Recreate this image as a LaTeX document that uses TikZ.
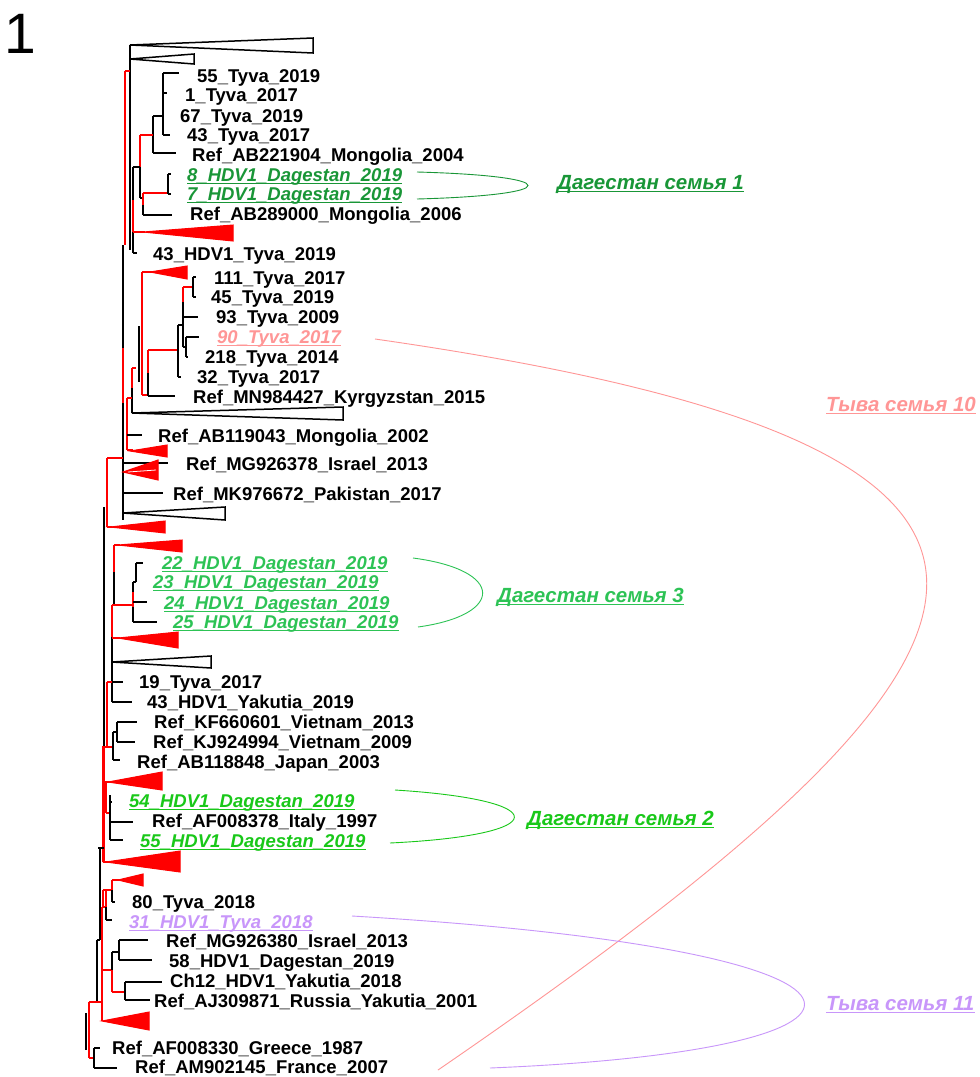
\documentclass[tikz,border=0pt]{standalone}
\usepackage{fontspec}
\setmainfont{Liberation Sans}
\definecolor{gA}{RGB}{25,150,55}
\definecolor{gB}{RGB}{45,195,85}
\definecolor{gC}{RGB}{25,200,25}
\definecolor{pk}{RGB}{255,150,150}
\definecolor{lv}{RGB}{200,150,250}
\definecolor{tred}{RGB}{255,0,0}
\newcommand{\ulnode}[2]{\draw[line width=1.4pt,#2] ([yshift=-2.6pt]#1.base west) -- ([yshift=-2.6pt]#1.base east);}
\begin{document}
\begin{tikzpicture}[x=1pt,y=-1pt,
  tb/.style={line width=1.8pt,black},
  tr/.style={line width=1.8pt,tred},
  trw/.style={line width=3pt,tred},
  rtri/.style={fill=tred,draw=tred,line width=1pt,line join=miter},
  btri/.style={draw=black,fill=white,line width=1.5pt,line join=miter},
  lab/.style={anchor=base west,inner sep=0pt,font=\fontsize{18.5}{20}\selectfont\bfseries},
  hl/.style={anchor=base west,inner sep=0pt,font=\fontsize{18.5}{20}\selectfont\bfseries\itshape},
  grp/.style={anchor=base west,inner sep=0pt,font=\fontsize{20.5}{22}\selectfont\bfseries\itshape},
  brace/.style={line width=0.9pt}]
\useasboundingbox (0,0) rectangle (980,1077);
\fill[white] (0,0) rectangle (980,1077);

\node[anchor=base west,inner sep=0pt,font=\fontsize{57}{60}\selectfont] (num) at (4,53) {1};

% ---------- top part ----------
\draw[btri] (130,45) -- (313,38) -- (313,53) -- cycle;
\draw[btri] (130,59) -- (194,54) -- (194,64) -- cycle;
\draw[tb] (130,45) -- (130,250);
\draw[tr] (125,71) -- (125,245);
\draw[tr] (125,71) -- (130,71);
\draw[tb] (163,73) -- (179,73);
\draw[tb] (163,73) -- (163,135);
\draw[tb] (163,93) -- (167,93);
\draw[tb] (163,135) -- (170,135);
\draw[tb] (153,116) -- (163,116);
\draw[tb] (153,116) -- (153,153);
\draw[tb] (153,153) -- (176,153);
\draw[tr] (140,135) -- (153,135);
\draw[tr] (140,135) -- (140,167);
\draw[tb] (140,167) -- (140,198);
\draw[tb] (133,167) -- (140,167);
\draw[tb] (140,198) -- (143,198);
\draw[tr] (143,193) -- (168,193);
\draw[tr] (143,193) -- (143,205);
\draw[tb] (143,205) -- (143,215);
\draw[tb] (143,215) -- (172,215);
\draw[tb] (168,174) -- (168,194);
\draw[tb] (168,174) -- (171,174);
\draw[tb] (168,194) -- (171,194);
\draw[tb] (133,167) -- (133,200);
\draw[tr] (133,200) -- (133,232);
\draw[tb] (133,232) -- (133,253);
\draw[tb] (133,253) -- (137,253);
\draw[tr] (133,232) -- (145,232);
\draw[rtri] (143,232) -- (233,225) -- (233,241) -- cycle;

% ---------- middle part ----------
\draw[tr] (142,272) -- (142,395);
\draw[tr] (142,272) -- (152,272);
\draw[rtri] (150,272) -- (187,266) -- (187,279) -- cycle;
\draw[tr] (142,395) -- (148,395);
\draw[tb] (148,396) -- (175,396);
\draw[tr] (148,350) -- (148,373);
\draw[tb] (148,373) -- (148,396);
\draw[tr] (148,350) -- (178,350);
\draw[tb] (178,325) -- (178,377);
\draw[tb] (178,377) -- (181,377);
\draw[tb] (178,325) -- (183,325);
\draw[tr] (183,287) -- (183,302);
\draw[tb] (183,302) -- (183,347);
\draw[tr] (183,287) -- (193,287);
\draw[tb] (193,277) -- (193,297);
\draw[tb] (193,277) -- (196,277);
\draw[tb] (193,297) -- (196,297);
\draw[tb] (183,317) -- (198,317);
\draw[tb] (186,337) -- (186,357);
\draw[tb] (186,337) -- (199,337);
\draw[tb] (186,357) -- (188,357);
\draw[tb] (183,347) -- (186,347);
\draw[tb] (139,326) -- (139,382);
\draw[tr] (132,368) -- (136,368);
\draw[tr] (132,368) -- (132,388);
\draw[tb] (132,388) -- (132,413);
\draw[btri] (132,413) -- (343,407) -- (343,420) -- cycle;
\draw[tr] (127,398) -- (127,450);
\draw[tr] (127,398) -- (132,398);
\draw[tb] (127,435) -- (142,435);
\draw[tr] (127,450) -- (133,450);
\draw[rtri] (130,451) -- (167,445) -- (167,457) -- cycle;
\draw[tb] (123,245) -- (123,348);
\draw[tr] (123,348) -- (123,403);
\draw[tb] (123,403) -- (123,520);
\draw[tb] (123,463) -- (168,463);
\draw[rtri] (123,472) -- (158,460) -- (158,480) -- cycle;
\draw[white,line width=0.8pt] (128,472) -- (156,470);
\draw[tb] (123,493) -- (163,493);
\draw[btri] (123,513) -- (225,507) -- (225,520) -- cycle;
\draw[tr] (107,458) -- (123,458);
\draw[tr] (107,458) -- (107,527);
\draw[tr] (107,527) -- (112,527);
\draw[rtri] (110,527) -- (165,521) -- (165,533) -- cycle;
\draw[tb] (104,507) -- (104,848);

% ---------- lower part ----------
\draw[tr] (114,545) -- (120,545);
\draw[rtri] (118,545) -- (182,540) -- (182,552) -- cycle;
\draw[tr] (114,545) -- (114,572);
\draw[tb] (114,572) -- (114,605);
\draw[tr] (112,605) -- (133,605);
\draw[tr] (112,605) -- (112,637);
\draw[tb] (112,637) -- (112,702);
\draw[tr] (112,638) -- (120,638);
\draw[rtri] (118,638) -- (178,632) -- (178,648) -- cycle;
\draw[tb] (133,582) -- (133,592);
\draw[tr] (133,592) -- (133,607);
\draw[tb] (133,607) -- (133,622);
\draw[tb] (133,602) -- (147,602);
\draw[tb] (133,622) -- (157,622);
\draw[tb] (133,582) -- (136,582);
\draw[tb] (136,563) -- (136,582);
\draw[tb] (136,563) -- (143,563);
\draw[btri] (112,662) -- (211,656) -- (211,668) -- cycle;
\draw[tr] (107,682) -- (112,682);
\draw[tb] (112,682) -- (123,682);
\draw[tb] (112,702) -- (132,702);
\draw[tr] (107,682) -- (107,747);
\draw[tr] (102,747) -- (113,747);
\draw[tb] (113,732) -- (113,760);
\draw[tb] (113,732) -- (117,732);
\draw[tb] (113,760) -- (120,760);
\draw[tb] (117,722) -- (117,742);
\draw[tb] (117,722) -- (137,722);
\draw[tb] (117,742) -- (135,742);
\draw[trw] (103,747) -- (103,862);
\draw[tr] (103,782) -- (110,782);
\draw[rtri] (108,782) -- (162,772) -- (162,790) -- cycle;
\draw[tr] (106,782) -- (106,813);
\draw[tr] (106,813) -- (110,813);
\draw[tb] (110,795) -- (110,840);
\draw[tb] (110,802) -- (112,802);
\draw[tb] (110,822) -- (133,822);
\draw[tb] (110,840) -- (123,840);
\draw[tr] (103,862) -- (110,862);
\draw[rtri] (106,862) -- (180,851) -- (180,872) -- cycle;
% bottom clades
\draw[tb] (98,848) -- (104,848);
\draw[tb] (100,848) -- (100,940);
\draw[tb] (97,940) -- (100,940);
\draw[tb] (97,940) -- (97,1002);
\draw[tr] (103,890) -- (103,907);
\draw[tr] (106,890) -- (106,907);
\draw[tr] (103,890) -- (112,890);
\draw[tr] (112,880) -- (112,890);
\draw[tr] (112,880) -- (120,880);
\draw[rtri] (118,880) -- (143,874) -- (143,886) -- cycle;
\draw[tb] (112,890) -- (112,902);
\draw[tb] (112,902) -- (115,902);
\draw[tr] (102,907) -- (106,907);
\draw[tb] (106,907) -- (106,920);
\draw[tb] (106,920) -- (112,920);
\draw[tr] (102,907) -- (102,1021);
\draw[tr] (102,970) -- (112,970);
\draw[tb] (112,952) -- (112,970);
\draw[tr] (112,970) -- (112,992);
\draw[tr] (112,992) -- (125,992);
\draw[tb] (112,952) -- (119,952);
\draw[tb] (119,940) -- (119,960);
\draw[tb] (119,940) -- (148,940);
\draw[tb] (119,960) -- (152,960);
\draw[tb] (125,982) -- (125,1000);
\draw[tb] (125,982) -- (162,982);
\draw[tb] (125,1000) -- (150,1000);
\draw[rtri] (102,1021) -- (149,1012) -- (149,1030) -- cycle;
\draw[tr] (89,1002) -- (102,1002);
\draw[tr] (89,1002) -- (89,1058);
\draw[tb] (86,1013) -- (86,1050);
\draw[tr] (89,1058) -- (94,1058);
\draw[tb] (94,1048) -- (94,1068);
\draw[tb] (94,1048) -- (100,1048);
\draw[tb] (94,1068) -- (117,1068);

% ---------- leaf labels ----------
\node[lab] (l1) at (197,82) {55\_Tyva\_2019};
\node[lab] (l2) at (185,101) {1\_Tyva\_2017};
\node[lab] (l3) at (180,122) {67\_Tyva\_2019};
\node[lab] (l4) at (187,141) {43\_Tyva\_2017};
\node[lab] (l5) at (192,161) {Ref\_AB221904\_Mongolia\_2004};
\node[hl,text=gA] (l6) at (187,181) {8\_HDV1\_Dagestan\_2019};
\node[hl,text=gA] (l7) at (187,200) {7\_HDV1\_Dagestan\_2019};
\node[lab] (l8) at (190,220) {Ref\_AB289000\_Mongolia\_2006};
\node[lab] (l9) at (153,260) {43\_HDV1\_Tyva\_2019};
\node[lab] (l10) at (214,284) {111\_Tyva\_2017};
\node[lab] (l11) at (211,303) {45\_Tyva\_2019};
\node[lab] (l12) at (216,323) {93\_Tyva\_2009};
\node[hl,text=pk] (l13) at (217,343) {90\_Tyva\_2017};
\node[lab] (l14) at (205,363) {218\_Tyva\_2014};
\node[lab] (l15) at (197,383) {32\_Tyva\_2017};
\node[lab] (l16) at (193,403) {Ref\_MN984427\_Kyrgyzstan\_2015};
\node[lab] (l17) at (158,442) {Ref\_AB119043\_Mongolia\_2002};
\node[lab] (l18) at (186,470) {Ref\_MG926378\_Israel\_2013};
\node[lab] (l19) at (173,500) {Ref\_MK976672\_Pakistan\_2017};
\node[hl,text=gB] (l20) at (162,569) {22\_HDV1\_Dagestan\_2019};
\node[hl,text=gB] (l21) at (153,588) {23\_HDV1\_Dagestan\_2019};
\node[hl,text=gB] (l22) at (164,609) {24\_HDV1\_Dagestan\_2019};
\node[hl,text=gB] (l23) at (173,628) {25\_HDV1\_Dagestan\_2019};
\node[lab] (l24) at (139,688) {19\_Tyva\_2017};
\node[lab] (l25) at (147,708) {43\_HDV1\_Yakutia\_2019};
\node[lab] (l26) at (154,728) {Ref\_KF660601\_Vietnam\_2013};
\node[lab] (l27) at (153,748) {Ref\_KJ924994\_Vietnam\_2009};
\node[lab] (l28) at (137,768) {Ref\_AB118848\_Japan\_2003};
\node[hl,text=gC] (l29) at (129,807) {54\_HDV1\_Dagestan\_2019};
\node[lab] (l30) at (152,827) {Ref\_AF008378\_Italy\_1997};
\node[hl,text=gC] (l31) at (140,847) {55\_HDV1\_Dagestan\_2019};
\node[lab] (l32) at (132,908) {80\_Tyva\_2018};
\node[hl,text=lv] (l33) at (129,928) {31\_HDV1\_Tyva\_2018};
\node[lab] (l34) at (166,947) {Ref\_MG926380\_Israel\_2013};
\node[lab] (l35) at (169,967) {58\_HDV1\_Dagestan\_2019};
\node[lab] (l36) at (170,987) {Ch12\_HDV1\_Yakutia\_2018};
\node[lab] (l37) at (154,1007) {Ref\_AJ309871\_Russia\_Yakutia\_2001};
\node[lab] (l38) at (112,1054) {Ref\_AF008330\_Greece\_1987};
\node[lab] (l39) at (135,1073) {Ref\_AM902145\_France\_2007};

% ---------- group labels ----------
\node[grp,text=gA] (g1) at (557,189) {Дагестан семья 1};
\node[grp,text=gB] (g3) at (497,602) {Дагестан семья 3};
\node[grp,text=gC] (g2) at (527,825) {Дагестан семья 2};
\node[grp,text=pk] (t10) at (826,411) {Тыва семья 10};
\node[grp,text=lv] (t11) at (826,1010) {Тыва семья 11};

% ---------- underlines ----------
\ulnode{l6}{gA} \ulnode{l7}{gA} \ulnode{g1}{gA}
\ulnode{l13}{pk} \ulnode{t10}{pk}
\ulnode{l20}{gB} \ulnode{l21}{gB} \ulnode{l22}{gB} \ulnode{l23}{gB} \ulnode{g3}{gB}
\ulnode{l29}{gC} \ulnode{l31}{gC} \ulnode{g2}{gC}
\ulnode{l33}{lv} \ulnode{t11}{lv}

% ---------- brackets ----------
\coordinate (b1a) at (417,172); \coordinate (b1b) at (417,199);
\coordinate (b3a) at (413,558); \coordinate (b3b) at (418,627);
\coordinate (b2a) at (395,790); \coordinate (b2b) at (390,843);
\coordinate (p10a) at (375,339); \coordinate (p10b) at (438,1070);
\coordinate (p11a) at (352,916); \coordinate (p11b) at (490,1068);
\draw[brace,gA] (b1a) .. controls (565,176) and (565,195) .. (b1b);
\draw[brace,gB] (b3a) .. controls (505,570) and (505,615) .. (b3b);
\draw[brace,gC] (b2a) .. controls (555,800) and (555,835) .. (b2b);
\draw[brace,pk] (p10a) .. controls (1150,450) and (1050,650) .. (p10b);
\draw[brace,lv] (p11a) .. controls (930,950) and (930,1050) .. (p11b);
\end{tikzpicture}
\end{document}
